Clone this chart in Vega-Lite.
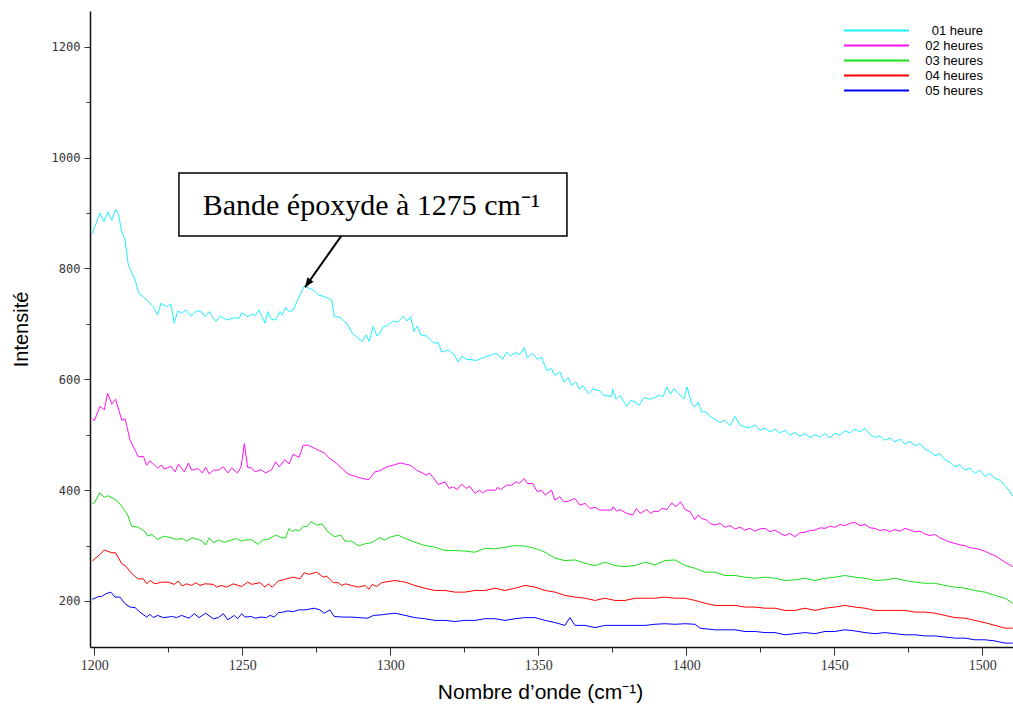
{
  "$schema": "https://vega.github.io/schema/vega-lite/v6.json",
  "width": 923,
  "height": 636,
  "autosize": {"type": "none"},
  "padding": {"left": 90, "top": 11, "right": 0, "bottom": 62},
  "background": "white",
  "config": {"view": {"stroke": null}, "axis": {"grid": false}},
  "datasets": {
    "spectra": [
      {"s":"01 heure","w":1199.3,"v":862},{"s":"01 heure","w":1201.9,"v":900},{"s":"01 heure","w":1203.3,"v":884},{"s":"01 heure","w":1204.5,"v":902},{"s":"01 heure","w":1205.9,"v":887},{"s":"01 heure","w":1207.2,"v":907},{"s":"01 heure","w":1208.1,"v":899},{"s":"01 heure","w":1209.3,"v":866},{"s":"01 heure","w":1210.4,"v":851},{"s":"01 heure","w":1211.5,"v":806},{"s":"01 heure","w":1213.8,"v":779},{"s":"01 heure","w":1215.1,"v":755},{"s":"01 heure","w":1216.6,"v":749},{"s":"01 heure","w":1219.9,"v":731},{"s":"01 heure","w":1221.4,"v":716},{"s":"01 heure","w":1222.5,"v":737},{"s":"01 heure","w":1224.5,"v":731},{"s":"01 heure","w":1225.9,"v":736},{"s":"01 heure","w":1227,"v":701},{"s":"01 heure","w":1228.2,"v":723},{"s":"01 heure","w":1229.5,"v":719},{"s":"01 heure","w":1230.9,"v":725},{"s":"01 heure","w":1232.7,"v":714},{"s":"01 heure","w":1234.6,"v":723},{"s":"01 heure","w":1236,"v":723},{"s":"01 heure","w":1237.4,"v":713},{"s":"01 heure","w":1238.8,"v":722},{"s":"01 heure","w":1241,"v":704},{"s":"01 heure","w":1242.5,"v":714},{"s":"01 heure","w":1244.7,"v":707},{"s":"01 heure","w":1247,"v":711},{"s":"01 heure","w":1249,"v":710},{"s":"01 heure","w":1249.8,"v":720},{"s":"01 heure","w":1251.8,"v":713},{"s":"01 heure","w":1253.2,"v":717},{"s":"01 heure","w":1254.5,"v":715},{"s":"01 heure","w":1255.6,"v":725},{"s":"01 heure","w":1257.7,"v":701},{"s":"01 heure","w":1258.6,"v":722},{"s":"01 heure","w":1259.9,"v":708},{"s":"01 heure","w":1261.3,"v":707},{"s":"01 heure","w":1262.7,"v":722},{"s":"01 heure","w":1263.5,"v":716},{"s":"01 heure","w":1264.7,"v":730},{"s":"01 heure","w":1265.8,"v":722},{"s":"01 heure","w":1267.2,"v":725},{"s":"01 heure","w":1269.2,"v":749},{"s":"01 heure","w":1270.9,"v":768},{"s":"01 heure","w":1274,"v":761},{"s":"01 heure","w":1275.7,"v":752},{"s":"01 heure","w":1277.9,"v":749},{"s":"01 heure","w":1280.2,"v":743},{"s":"01 heure","w":1281.1,"v":713},{"s":"01 heure","w":1283,"v":712},{"s":"01 heure","w":1285.4,"v":700},{"s":"01 heure","w":1287.2,"v":683},{"s":"01 heure","w":1288.8,"v":676},{"s":"01 heure","w":1290.5,"v":668},{"s":"01 heure","w":1291.9,"v":680},{"s":"01 heure","w":1292.9,"v":668},{"s":"01 heure","w":1294.2,"v":695},{"s":"01 heure","w":1295.5,"v":678},{"s":"01 heure","w":1296.5,"v":683},{"s":"01 heure","w":1297.6,"v":695},{"s":"01 heure","w":1298.8,"v":696},{"s":"01 heure","w":1301,"v":705},{"s":"01 heure","w":1302.5,"v":703},{"s":"01 heure","w":1304.4,"v":714},{"s":"01 heure","w":1305.7,"v":705},{"s":"01 heure","w":1306.9,"v":713},{"s":"01 heure","w":1308,"v":686},{"s":"01 heure","w":1309.1,"v":696},{"s":"01 heure","w":1310.3,"v":680},{"s":"01 heure","w":1312.3,"v":678},{"s":"01 heure","w":1314.8,"v":665},{"s":"01 heure","w":1316.2,"v":666},{"s":"01 heure","w":1317.4,"v":649},{"s":"01 heure","w":1319.6,"v":653},{"s":"01 heure","w":1321.5,"v":645},{"s":"01 heure","w":1323,"v":631},{"s":"01 heure","w":1324.1,"v":642},{"s":"01 heure","w":1325.8,"v":636},{"s":"01 heure","w":1329.2,"v":634},{"s":"01 heure","w":1330.9,"v":638},{"s":"01 heure","w":1333.7,"v":643},{"s":"01 heure","w":1335.7,"v":647},{"s":"01 heure","w":1338,"v":636},{"s":"01 heure","w":1339.3,"v":649},{"s":"01 heure","w":1340.7,"v":642},{"s":"01 heure","w":1342.1,"v":648},{"s":"01 heure","w":1343.8,"v":645},{"s":"01 heure","w":1345.2,"v":657},{"s":"01 heure","w":1346.3,"v":639},{"s":"01 heure","w":1348.1,"v":647},{"s":"01 heure","w":1349.7,"v":636},{"s":"01 heure","w":1351.1,"v":640},{"s":"01 heure","w":1352.8,"v":616},{"s":"01 heure","w":1354.5,"v":619},{"s":"01 heure","w":1355.6,"v":607},{"s":"01 heure","w":1357.3,"v":613},{"s":"01 heure","w":1358.7,"v":595},{"s":"01 heure","w":1360.1,"v":603},{"s":"01 heure","w":1361.3,"v":589},{"s":"01 heure","w":1362.7,"v":595},{"s":"01 heure","w":1363.9,"v":582},{"s":"01 heure","w":1365.2,"v":588},{"s":"01 heure","w":1367,"v":574},{"s":"01 heure","w":1368.6,"v":583},{"s":"01 heure","w":1370.8,"v":579},{"s":"01 heure","w":1372.2,"v":571},{"s":"01 heure","w":1374.8,"v":569},{"s":"01 heure","w":1375.1,"v":582},{"s":"01 heure","w":1376.3,"v":564},{"s":"01 heure","w":1377.6,"v":571},{"s":"01 heure","w":1379.9,"v":551},{"s":"01 heure","w":1381.2,"v":562},{"s":"01 heure","w":1382.7,"v":559},{"s":"01 heure","w":1384.1,"v":553},{"s":"01 heure","w":1385.7,"v":567},{"s":"01 heure","w":1387.5,"v":564},{"s":"01 heure","w":1389.4,"v":567},{"s":"01 heure","w":1390.9,"v":571},{"s":"01 heure","w":1392.2,"v":569},{"s":"01 heure","w":1393.4,"v":586},{"s":"01 heure","w":1394.7,"v":573},{"s":"01 heure","w":1395.8,"v":583},{"s":"01 heure","w":1397.3,"v":575},{"s":"01 heure","w":1399.2,"v":564},{"s":"01 heure","w":1400.3,"v":586},{"s":"01 heure","w":1401.8,"v":556},{"s":"01 heure","w":1402.9,"v":550},{"s":"01 heure","w":1404,"v":559},{"s":"01 heure","w":1405.2,"v":541},{"s":"01 heure","w":1406.7,"v":541},{"s":"01 heure","w":1408,"v":533},{"s":"01 heure","w":1409.7,"v":528},{"s":"01 heure","w":1411.5,"v":522},{"s":"01 heure","w":1413.1,"v":526},{"s":"01 heure","w":1414.8,"v":516},{"s":"01 heure","w":1416.5,"v":533},{"s":"01 heure","w":1418.2,"v":517},{"s":"01 heure","w":1419.8,"v":514},{"s":"01 heure","w":1421.5,"v":512},{"s":"01 heure","w":1423.2,"v":518},{"s":"01 heure","w":1424.9,"v":508},{"s":"01 heure","w":1426.6,"v":512},{"s":"01 heure","w":1428.3,"v":505},{"s":"01 heure","w":1430,"v":510},{"s":"01 heure","w":1431.7,"v":503},{"s":"01 heure","w":1433.4,"v":508},{"s":"01 heure","w":1435,"v":499},{"s":"01 heure","w":1436.7,"v":504},{"s":"01 heure","w":1438.4,"v":497},{"s":"01 heure","w":1440.1,"v":502},{"s":"01 heure","w":1441.8,"v":495},{"s":"01 heure","w":1443.5,"v":500},{"s":"01 heure","w":1445.2,"v":496},{"s":"01 heure","w":1446.9,"v":502},{"s":"01 heure","w":1448.6,"v":494},{"s":"01 heure","w":1450.2,"v":503},{"s":"01 heure","w":1451.9,"v":499},{"s":"01 heure","w":1453.6,"v":507},{"s":"01 heure","w":1455.3,"v":503},{"s":"01 heure","w":1457,"v":510},{"s":"01 heure","w":1458.7,"v":505},{"s":"01 heure","w":1460.4,"v":512},{"s":"01 heure","w":1462.1,"v":500},{"s":"01 heure","w":1463.8,"v":495},{"s":"01 heure","w":1465.4,"v":498},{"s":"01 heure","w":1467.1,"v":490},{"s":"01 heure","w":1468.8,"v":494},{"s":"01 heure","w":1470.5,"v":487},{"s":"01 heure","w":1472.2,"v":492},{"s":"01 heure","w":1473.9,"v":483},{"s":"01 heure","w":1475.6,"v":488},{"s":"01 heure","w":1477.3,"v":480},{"s":"01 heure","w":1479,"v":484},{"s":"01 heure","w":1480.6,"v":474},{"s":"01 heure","w":1482.3,"v":470},{"s":"01 heure","w":1484,"v":462},{"s":"01 heure","w":1485.7,"v":466},{"s":"01 heure","w":1487.4,"v":455},{"s":"01 heure","w":1489.1,"v":450},{"s":"01 heure","w":1490.8,"v":442},{"s":"01 heure","w":1492.5,"v":446},{"s":"01 heure","w":1494.2,"v":436},{"s":"01 heure","w":1495.8,"v":440},{"s":"01 heure","w":1497.5,"v":430},{"s":"01 heure","w":1499.2,"v":436},{"s":"01 heure","w":1500.9,"v":425},{"s":"01 heure","w":1502.6,"v":430},{"s":"01 heure","w":1504.3,"v":421},{"s":"01 heure","w":1506,"v":418},{"s":"01 heure","w":1507.7,"v":408},{"s":"01 heure","w":1509,"v":400},{"s":"01 heure","w":1510.3,"v":389},

      {"s":"02 heures","w":1199.3,"v":529},{"s":"02 heures","w":1200,"v":525},{"s":"02 heures","w":1201.9,"v":551},{"s":"02 heures","w":1203.4,"v":545},{"s":"02 heures","w":1204.5,"v":575},{"s":"02 heures","w":1205.9,"v":555},{"s":"02 heures","w":1207.2,"v":564},{"s":"02 heures","w":1209.3,"v":526},{"s":"02 heures","w":1210.4,"v":529},{"s":"02 heures","w":1212.1,"v":490},{"s":"02 heures","w":1214.9,"v":460},{"s":"02 heures","w":1216.6,"v":461},{"s":"02 heures","w":1217.7,"v":445},{"s":"02 heures","w":1218.8,"v":453},{"s":"02 heures","w":1221.4,"v":440},{"s":"02 heures","w":1222.8,"v":445},{"s":"02 heures","w":1223.6,"v":438},{"s":"02 heures","w":1225.9,"v":443},{"s":"02 heures","w":1227.3,"v":433},{"s":"02 heures","w":1228.4,"v":447},{"s":"02 heures","w":1230.4,"v":433},{"s":"02 heures","w":1231.8,"v":449},{"s":"02 heures","w":1232.9,"v":436},{"s":"02 heures","w":1235.1,"v":439},{"s":"02 heures","w":1236.5,"v":431},{"s":"02 heures","w":1237.6,"v":441},{"s":"02 heures","w":1238.8,"v":429},{"s":"02 heures","w":1240.2,"v":436},{"s":"02 heures","w":1241.9,"v":436},{"s":"02 heures","w":1243.6,"v":442},{"s":"02 heures","w":1245.1,"v":431},{"s":"02 heures","w":1246.4,"v":440},{"s":"02 heures","w":1248.4,"v":431},{"s":"02 heures","w":1249.6,"v":442},{"s":"02 heures","w":1250.7,"v":484},{"s":"02 heures","w":1251.8,"v":441},{"s":"02 heures","w":1253.2,"v":440},{"s":"02 heures","w":1254.3,"v":433},{"s":"02 heures","w":1256.3,"v":437},{"s":"02 heures","w":1257.9,"v":431},{"s":"02 heures","w":1259.9,"v":437},{"s":"02 heures","w":1261.3,"v":451},{"s":"02 heures","w":1262.5,"v":442},{"s":"02 heures","w":1264.4,"v":455},{"s":"02 heures","w":1265.8,"v":447},{"s":"02 heures","w":1267.2,"v":465},{"s":"02 heures","w":1269.2,"v":459},{"s":"02 heures","w":1270.6,"v":481},{"s":"02 heures","w":1272.4,"v":481},{"s":"02 heures","w":1274.6,"v":475},{"s":"02 heures","w":1277.7,"v":467},{"s":"02 heures","w":1279.6,"v":457},{"s":"02 heures","w":1281.9,"v":448},{"s":"02 heures","w":1284.1,"v":437},{"s":"02 heures","w":1285.8,"v":429},{"s":"02 heures","w":1288.1,"v":425},{"s":"02 heures","w":1290.5,"v":421},{"s":"02 heures","w":1292.8,"v":419},{"s":"02 heures","w":1294.8,"v":433},{"s":"02 heures","w":1296.5,"v":435},{"s":"02 heures","w":1298.8,"v":442},{"s":"02 heures","w":1301,"v":445},{"s":"02 heures","w":1303.3,"v":449},{"s":"02 heures","w":1306.7,"v":445},{"s":"02 heures","w":1308.9,"v":436},{"s":"02 heures","w":1312.3,"v":427},{"s":"02 heures","w":1313.2,"v":431},{"s":"02 heures","w":1314.8,"v":421},{"s":"02 heures","w":1316.2,"v":410},{"s":"02 heures","w":1318.5,"v":415},{"s":"02 heures","w":1319.9,"v":403},{"s":"02 heures","w":1321.3,"v":406},{"s":"02 heures","w":1322.6,"v":401},{"s":"02 heures","w":1324.1,"v":411},{"s":"02 heures","w":1325.6,"v":403},{"s":"02 heures","w":1326.9,"v":407},{"s":"02 heures","w":1328.6,"v":394},{"s":"02 heures","w":1330.1,"v":400},{"s":"02 heures","w":1331.2,"v":395},{"s":"02 heures","w":1332.8,"v":400},{"s":"02 heures","w":1335.7,"v":400},{"s":"02 heures","w":1336.2,"v":405},{"s":"02 heures","w":1337.3,"v":401},{"s":"02 heures","w":1339.3,"v":409},{"s":"02 heures","w":1341,"v":409},{"s":"02 heures","w":1342.5,"v":415},{"s":"02 heures","w":1343.6,"v":412},{"s":"02 heures","w":1345.2,"v":421},{"s":"02 heures","w":1346.3,"v":412},{"s":"02 heures","w":1348.1,"v":412},{"s":"02 heures","w":1349.7,"v":397},{"s":"02 heures","w":1351.1,"v":400},{"s":"02 heures","w":1352.3,"v":391},{"s":"02 heures","w":1354.5,"v":400},{"s":"02 heures","w":1355.6,"v":382},{"s":"02 heures","w":1357.3,"v":388},{"s":"02 heures","w":1358.7,"v":379},{"s":"02 heures","w":1360.1,"v":380},{"s":"02 heures","w":1362.4,"v":385},{"s":"02 heures","w":1364.1,"v":373},{"s":"02 heures","w":1365.8,"v":376},{"s":"02 heures","w":1367.5,"v":367},{"s":"02 heures","w":1369.2,"v":369},{"s":"02 heures","w":1370.8,"v":364},{"s":"02 heures","w":1374.8,"v":364},{"s":"02 heures","w":1375.3,"v":370},{"s":"02 heures","w":1376.5,"v":362},{"s":"02 heures","w":1377.6,"v":365},{"s":"02 heures","w":1379.9,"v":358},{"s":"02 heures","w":1381.9,"v":355},{"s":"02 heures","w":1383.2,"v":367},{"s":"02 heures","w":1384.4,"v":358},{"s":"02 heures","w":1386.6,"v":365},{"s":"02 heures","w":1388,"v":358},{"s":"02 heures","w":1389.1,"v":362},{"s":"02 heures","w":1390.5,"v":361},{"s":"02 heures","w":1391.7,"v":367},{"s":"02 heures","w":1393.4,"v":365},{"s":"02 heures","w":1395.1,"v":377},{"s":"02 heures","w":1396.5,"v":370},{"s":"02 heures","w":1398.1,"v":379},{"s":"02 heures","w":1399.6,"v":365},{"s":"02 heures","w":1401.3,"v":361},{"s":"02 heures","w":1402.9,"v":347},{"s":"02 heures","w":1404,"v":355},{"s":"02 heures","w":1405.2,"v":349},{"s":"02 heures","w":1406.9,"v":346},{"s":"02 heures","w":1408,"v":340},{"s":"02 heures","w":1409.7,"v":337},{"s":"02 heures","w":1411.5,"v":340},{"s":"02 heures","w":1413.1,"v":333},{"s":"02 heures","w":1414.8,"v":336},{"s":"02 heures","w":1416.5,"v":330},{"s":"02 heures","w":1418.2,"v":333},{"s":"02 heures","w":1419.8,"v":328},{"s":"02 heures","w":1421.5,"v":331},{"s":"02 heures","w":1423.2,"v":326},{"s":"02 heures","w":1424.9,"v":330},{"s":"02 heures","w":1426.6,"v":331},{"s":"02 heures","w":1428.3,"v":325},{"s":"02 heures","w":1430,"v":328},{"s":"02 heures","w":1431.7,"v":322},{"s":"02 heures","w":1433.4,"v":318},{"s":"02 heures","w":1435,"v":322},{"s":"02 heures","w":1436.7,"v":316},{"s":"02 heures","w":1438.4,"v":323},{"s":"02 heures","w":1440.1,"v":324},{"s":"02 heures","w":1441.8,"v":327},{"s":"02 heures","w":1443.5,"v":328},{"s":"02 heures","w":1445.2,"v":332},{"s":"02 heures","w":1446.9,"v":331},{"s":"02 heures","w":1448.6,"v":335},{"s":"02 heures","w":1450.2,"v":333},{"s":"02 heures","w":1451.9,"v":338},{"s":"02 heures","w":1453.6,"v":336},{"s":"02 heures","w":1455.3,"v":340},{"s":"02 heures","w":1457,"v":342},{"s":"02 heures","w":1458.7,"v":336},{"s":"02 heures","w":1460.4,"v":338},{"s":"02 heures","w":1462.1,"v":332},{"s":"02 heures","w":1463.8,"v":331},{"s":"02 heures","w":1465.4,"v":327},{"s":"02 heures","w":1467.1,"v":329},{"s":"02 heures","w":1468.8,"v":325},{"s":"02 heures","w":1470.5,"v":329},{"s":"02 heures","w":1472.2,"v":326},{"s":"02 heures","w":1473.9,"v":331},{"s":"02 heures","w":1475.6,"v":328},{"s":"02 heures","w":1477.3,"v":325},{"s":"02 heures","w":1479,"v":326},{"s":"02 heures","w":1480.6,"v":321},{"s":"02 heures","w":1482.3,"v":318},{"s":"02 heures","w":1484,"v":320},{"s":"02 heures","w":1485.7,"v":314},{"s":"02 heures","w":1487.4,"v":310},{"s":"02 heures","w":1489.1,"v":306},{"s":"02 heures","w":1490.8,"v":304},{"s":"02 heures","w":1492.5,"v":301},{"s":"02 heures","w":1494.2,"v":300},{"s":"02 heures","w":1495.8,"v":296},{"s":"02 heures","w":1497.5,"v":295},{"s":"02 heures","w":1499.2,"v":293},{"s":"02 heures","w":1500.9,"v":290},{"s":"02 heures","w":1502.6,"v":285},{"s":"02 heures","w":1504.3,"v":282},{"s":"02 heures","w":1506,"v":276},{"s":"02 heures","w":1507.7,"v":270},{"s":"02 heures","w":1510.3,"v":262},

      {"s":"03 heures","w":1199.3,"v":376},{"s":"03 heures","w":1200,"v":377},{"s":"03 heures","w":1201.9,"v":395},{"s":"03 heures","w":1203.4,"v":387},{"s":"03 heures","w":1204.5,"v":390},{"s":"03 heures","w":1206.4,"v":385},{"s":"03 heures","w":1208.1,"v":379},{"s":"03 heures","w":1209.8,"v":367},{"s":"03 heures","w":1211.3,"v":355},{"s":"03 heures","w":1212.6,"v":335},{"s":"03 heures","w":1214.9,"v":333},{"s":"03 heures","w":1217.1,"v":325},{"s":"03 heures","w":1218.2,"v":317},{"s":"03 heures","w":1219.4,"v":320},{"s":"03 heures","w":1221.4,"v":311},{"s":"03 heures","w":1223.6,"v":317},{"s":"03 heures","w":1225.9,"v":314},{"s":"03 heures","w":1227.8,"v":311},{"s":"03 heures","w":1229.7,"v":313},{"s":"03 heures","w":1231.2,"v":308},{"s":"03 heures","w":1233.1,"v":314},{"s":"03 heures","w":1235.1,"v":311},{"s":"03 heures","w":1236.5,"v":308},{"s":"03 heures","w":1237.6,"v":301},{"s":"03 heures","w":1238.8,"v":314},{"s":"03 heures","w":1240.2,"v":305},{"s":"03 heures","w":1241.9,"v":310},{"s":"03 heures","w":1243.9,"v":306},{"s":"03 heures","w":1246.4,"v":310},{"s":"03 heures","w":1248.1,"v":313},{"s":"03 heures","w":1249.6,"v":308},{"s":"03 heures","w":1250.9,"v":310},{"s":"03 heures","w":1252.9,"v":311},{"s":"03 heures","w":1254.3,"v":306},{"s":"03 heures","w":1255.4,"v":302},{"s":"03 heures","w":1256.8,"v":310},{"s":"03 heures","w":1258.6,"v":311},{"s":"03 heures","w":1261.3,"v":319},{"s":"03 heures","w":1263.3,"v":314},{"s":"03 heures","w":1264.7,"v":314},{"s":"03 heures","w":1265.8,"v":331},{"s":"03 heures","w":1266.9,"v":325},{"s":"03 heures","w":1268,"v":329},{"s":"03 heures","w":1269.2,"v":326},{"s":"03 heures","w":1270.6,"v":335},{"s":"03 heures","w":1271.8,"v":334},{"s":"03 heures","w":1273.4,"v":343},{"s":"03 heures","w":1275.1,"v":337},{"s":"03 heures","w":1277,"v":339},{"s":"03 heures","w":1278.9,"v":325},{"s":"03 heures","w":1281.3,"v":316},{"s":"03 heures","w":1283.3,"v":319},{"s":"03 heures","w":1284.7,"v":308},{"s":"03 heures","w":1286.9,"v":308},{"s":"03 heures","w":1289.4,"v":299},{"s":"03 heures","w":1290.5,"v":302},{"s":"03 heures","w":1293.5,"v":305},{"s":"03 heures","w":1296.5,"v":314},{"s":"03 heures","w":1298.2,"v":310},{"s":"03 heures","w":1299.9,"v":315},{"s":"03 heures","w":1302.6,"v":319},{"s":"03 heures","w":1305,"v":313},{"s":"03 heures","w":1308.3,"v":306},{"s":"03 heures","w":1311.7,"v":300},{"s":"03 heures","w":1315.1,"v":297},{"s":"03 heures","w":1318.5,"v":291},{"s":"03 heures","w":1321.9,"v":291},{"s":"03 heures","w":1325.2,"v":290},{"s":"03 heures","w":1328.6,"v":288},{"s":"03 heures","w":1332,"v":295},{"s":"03 heures","w":1335.4,"v":294},{"s":"03 heures","w":1338.8,"v":297},{"s":"03 heures","w":1342.1,"v":300},{"s":"03 heures","w":1345.5,"v":299},{"s":"03 heures","w":1348.9,"v":295},{"s":"03 heures","w":1352.3,"v":288},{"s":"03 heures","w":1355.7,"v":277},{"s":"03 heures","w":1359,"v":273},{"s":"03 heures","w":1362.4,"v":274},{"s":"03 heures","w":1365.8,"v":268},{"s":"03 heures","w":1369.2,"v":264},{"s":"03 heures","w":1372.5,"v":270},{"s":"03 heures","w":1375.9,"v":264},{"s":"03 heures","w":1379.3,"v":262},{"s":"03 heures","w":1382.7,"v":264},{"s":"03 heures","w":1386.1,"v":270},{"s":"03 heures","w":1389.4,"v":265},{"s":"03 heures","w":1392.8,"v":273},{"s":"03 heures","w":1396.2,"v":274},{"s":"03 heures","w":1399.6,"v":264},{"s":"03 heures","w":1403,"v":259},{"s":"03 heures","w":1406.3,"v":252},{"s":"03 heures","w":1409.7,"v":252},{"s":"03 heures","w":1413.1,"v":246},{"s":"03 heures","w":1416.5,"v":246},{"s":"03 heures","w":1419.8,"v":243},{"s":"03 heures","w":1423.2,"v":241},{"s":"03 heures","w":1426.6,"v":243},{"s":"03 heures","w":1430,"v":241},{"s":"03 heures","w":1433.4,"v":237},{"s":"03 heures","w":1436.7,"v":238},{"s":"03 heures","w":1440.1,"v":241},{"s":"03 heures","w":1443.5,"v":237},{"s":"03 heures","w":1446.9,"v":241},{"s":"03 heures","w":1450.2,"v":243},{"s":"03 heures","w":1453.6,"v":246},{"s":"03 heures","w":1457,"v":243},{"s":"03 heures","w":1460.4,"v":241},{"s":"03 heures","w":1463.8,"v":237},{"s":"03 heures","w":1467.1,"v":238},{"s":"03 heures","w":1470.5,"v":241},{"s":"03 heures","w":1473.9,"v":237},{"s":"03 heures","w":1477.3,"v":234},{"s":"03 heures","w":1480.6,"v":232},{"s":"03 heures","w":1484,"v":232},{"s":"03 heures","w":1487.4,"v":228},{"s":"03 heures","w":1490.8,"v":225},{"s":"03 heures","w":1494.2,"v":223},{"s":"03 heures","w":1497.5,"v":219},{"s":"03 heures","w":1500.9,"v":216},{"s":"03 heures","w":1504.3,"v":210},{"s":"03 heures","w":1507.7,"v":205},{"s":"03 heures","w":1510.3,"v":196},

      {"s":"04 heures","w":1199.3,"v":272},{"s":"04 heures","w":1201.9,"v":284},{"s":"04 heures","w":1203.4,"v":292},{"s":"04 heures","w":1205.9,"v":287},{"s":"04 heures","w":1207.2,"v":287},{"s":"04 heures","w":1209.3,"v":267},{"s":"04 heures","w":1210.6,"v":263},{"s":"04 heures","w":1212.6,"v":250},{"s":"04 heures","w":1214.7,"v":240},{"s":"04 heures","w":1216.6,"v":240},{"s":"04 heures","w":1217.7,"v":231},{"s":"04 heures","w":1218.8,"v":237},{"s":"04 heures","w":1220.5,"v":231},{"s":"04 heures","w":1222.8,"v":234},{"s":"04 heures","w":1225,"v":234},{"s":"04 heures","w":1227,"v":230},{"s":"04 heures","w":1228.4,"v":236},{"s":"04 heures","w":1229.7,"v":227},{"s":"04 heures","w":1231.2,"v":231},{"s":"04 heures","w":1232.9,"v":228},{"s":"04 heures","w":1234.3,"v":233},{"s":"04 heures","w":1235.7,"v":228},{"s":"04 heures","w":1237.4,"v":231},{"s":"04 heures","w":1240.2,"v":230},{"s":"04 heures","w":1241.4,"v":225},{"s":"04 heures","w":1243,"v":228},{"s":"04 heures","w":1244.7,"v":225},{"s":"04 heures","w":1247,"v":231},{"s":"04 heures","w":1249.8,"v":226},{"s":"04 heures","w":1251.8,"v":234},{"s":"04 heures","w":1253.2,"v":230},{"s":"04 heures","w":1256,"v":233},{"s":"04 heures","w":1257.7,"v":225},{"s":"04 heures","w":1258.8,"v":231},{"s":"04 heures","w":1260.1,"v":225},{"s":"04 heures","w":1262.2,"v":236},{"s":"04 heures","w":1264.4,"v":239},{"s":"04 heures","w":1267.2,"v":243},{"s":"04 heures","w":1269.5,"v":240},{"s":"04 heures","w":1270.9,"v":251},{"s":"04 heures","w":1272.5,"v":248},{"s":"04 heures","w":1275.1,"v":252},{"s":"04 heures","w":1277.4,"v":243},{"s":"04 heures","w":1278.5,"v":245},{"s":"04 heures","w":1280.7,"v":233},{"s":"04 heures","w":1282.4,"v":233},{"s":"04 heures","w":1283.6,"v":228},{"s":"04 heures","w":1284.9,"v":231},{"s":"04 heures","w":1286.9,"v":228},{"s":"04 heures","w":1289.2,"v":225},{"s":"04 heures","w":1291.5,"v":228},{"s":"04 heures","w":1292.8,"v":221},{"s":"04 heures","w":1293.9,"v":230},{"s":"04 heures","w":1295.4,"v":226},{"s":"04 heures","w":1297.1,"v":233},{"s":"04 heures","w":1298.2,"v":234},{"s":"04 heures","w":1301.6,"v":237},{"s":"04 heures","w":1305,"v":234},{"s":"04 heures","w":1308.3,"v":228},{"s":"04 heures","w":1311.7,"v":223},{"s":"04 heures","w":1315.1,"v":219},{"s":"04 heures","w":1318.5,"v":219},{"s":"04 heures","w":1321.9,"v":216},{"s":"04 heures","w":1325.2,"v":216},{"s":"04 heures","w":1328.6,"v":219},{"s":"04 heures","w":1332,"v":219},{"s":"04 heures","w":1335.4,"v":223},{"s":"04 heures","w":1338.8,"v":219},{"s":"04 heures","w":1342.1,"v":223},{"s":"04 heures","w":1345.5,"v":228},{"s":"04 heures","w":1348.9,"v":225},{"s":"04 heures","w":1352.3,"v":219},{"s":"04 heures","w":1355.7,"v":216},{"s":"04 heures","w":1359,"v":210},{"s":"04 heures","w":1362.4,"v":207},{"s":"04 heures","w":1365.8,"v":205},{"s":"04 heures","w":1369.2,"v":201},{"s":"04 heures","w":1372.5,"v":205},{"s":"04 heures","w":1375.9,"v":201},{"s":"04 heures","w":1379.3,"v":201},{"s":"04 heures","w":1382.7,"v":205},{"s":"04 heures","w":1386.1,"v":205},{"s":"04 heures","w":1389.4,"v":205},{"s":"04 heures","w":1392.8,"v":207},{"s":"04 heures","w":1396.2,"v":205},{"s":"04 heures","w":1399.6,"v":205},{"s":"04 heures","w":1403,"v":201},{"s":"04 heures","w":1406.3,"v":196},{"s":"04 heures","w":1409.7,"v":192},{"s":"04 heures","w":1413.1,"v":192},{"s":"04 heures","w":1416.5,"v":192},{"s":"04 heures","w":1419.8,"v":189},{"s":"04 heures","w":1423.2,"v":189},{"s":"04 heures","w":1426.6,"v":187},{"s":"04 heures","w":1430,"v":187},{"s":"04 heures","w":1433.4,"v":183},{"s":"04 heures","w":1436.7,"v":183},{"s":"04 heures","w":1440.1,"v":187},{"s":"04 heures","w":1443.5,"v":183},{"s":"04 heures","w":1446.9,"v":187},{"s":"04 heures","w":1450.2,"v":189},{"s":"04 heures","w":1453.6,"v":192},{"s":"04 heures","w":1457,"v":189},{"s":"04 heures","w":1460.4,"v":187},{"s":"04 heures","w":1463.8,"v":183},{"s":"04 heures","w":1467.1,"v":183},{"s":"04 heures","w":1470.5,"v":183},{"s":"04 heures","w":1473.9,"v":183},{"s":"04 heures","w":1477.3,"v":180},{"s":"04 heures","w":1480.6,"v":180},{"s":"04 heures","w":1484,"v":178},{"s":"04 heures","w":1487.4,"v":174},{"s":"04 heures","w":1490.8,"v":170},{"s":"04 heures","w":1494.2,"v":169},{"s":"04 heures","w":1497.5,"v":165},{"s":"04 heures","w":1500.9,"v":161},{"s":"04 heures","w":1504.3,"v":156},{"s":"04 heures","w":1507.7,"v":151},{"s":"04 heures","w":1510.3,"v":151},

      {"s":"05 heures","w":1199.3,"v":203},{"s":"05 heures","w":1201.4,"v":208},{"s":"05 heures","w":1202.5,"v":208},{"s":"05 heures","w":1203.9,"v":213},{"s":"05 heures","w":1205.6,"v":216},{"s":"05 heures","w":1207,"v":207},{"s":"05 heures","w":1208.7,"v":207},{"s":"05 heures","w":1210.4,"v":195},{"s":"05 heures","w":1212.1,"v":189},{"s":"05 heures","w":1213.8,"v":188},{"s":"05 heures","w":1215.4,"v":180},{"s":"05 heures","w":1217.7,"v":171},{"s":"05 heures","w":1218.8,"v":176},{"s":"05 heures","w":1219.9,"v":170},{"s":"05 heures","w":1221.4,"v":174},{"s":"05 heures","w":1223.3,"v":170},{"s":"05 heures","w":1226.4,"v":172},{"s":"05 heures","w":1227.8,"v":170},{"s":"05 heures","w":1229.5,"v":174},{"s":"05 heures","w":1232,"v":169},{"s":"05 heures","w":1233.8,"v":177},{"s":"05 heures","w":1235.4,"v":170},{"s":"05 heures","w":1237.6,"v":178},{"s":"05 heures","w":1240.2,"v":168},{"s":"05 heures","w":1241.9,"v":170},{"s":"05 heures","w":1243.6,"v":177},{"s":"05 heures","w":1245.1,"v":166},{"s":"05 heures","w":1247.3,"v":174},{"s":"05 heures","w":1248.4,"v":168},{"s":"05 heures","w":1249.8,"v":177},{"s":"05 heures","w":1250.9,"v":171},{"s":"05 heures","w":1252.9,"v":172},{"s":"05 heures","w":1254.5,"v":169},{"s":"05 heures","w":1256.3,"v":171},{"s":"05 heures","w":1258.2,"v":170},{"s":"05 heures","w":1259.4,"v":174},{"s":"05 heures","w":1260.8,"v":171},{"s":"05 heures","w":1262.2,"v":179},{"s":"05 heures","w":1263.9,"v":180},{"s":"05 heures","w":1265.3,"v":182},{"s":"05 heures","w":1267.2,"v":181},{"s":"05 heures","w":1269.2,"v":184},{"s":"05 heures","w":1271.2,"v":184},{"s":"05 heures","w":1274.3,"v":187},{"s":"05 heures","w":1276.2,"v":184},{"s":"05 heures","w":1277.7,"v":178},{"s":"05 heures","w":1279.6,"v":184},{"s":"05 heures","w":1281.1,"v":172},{"s":"05 heures","w":1284.1,"v":171},{"s":"05 heures","w":1286.9,"v":171},{"s":"05 heures","w":1289.2,"v":170},{"s":"05 heures","w":1292.4,"v":169},{"s":"05 heures","w":1294.3,"v":174},{"s":"05 heures","w":1297.1,"v":175},{"s":"05 heures","w":1298.2,"v":176},{"s":"05 heures","w":1301.6,"v":178},{"s":"05 heures","w":1305,"v":174},{"s":"05 heures","w":1308.3,"v":170},{"s":"05 heures","w":1311.7,"v":168},{"s":"05 heures","w":1315.1,"v":165},{"s":"05 heures","w":1318.5,"v":165},{"s":"05 heures","w":1321.9,"v":163},{"s":"05 heures","w":1325.2,"v":165},{"s":"05 heures","w":1328.6,"v":165},{"s":"05 heures","w":1332,"v":168},{"s":"05 heures","w":1335.4,"v":168},{"s":"05 heures","w":1338.8,"v":165},{"s":"05 heures","w":1342.1,"v":168},{"s":"05 heures","w":1345.5,"v":170},{"s":"05 heures","w":1348.9,"v":170},{"s":"05 heures","w":1352.3,"v":165},{"s":"05 heures","w":1355.7,"v":161},{"s":"05 heures","w":1359,"v":156},{"s":"05 heures","w":1360.7,"v":170},{"s":"05 heures","w":1362.4,"v":156},{"s":"05 heures","w":1365.8,"v":156},{"s":"05 heures","w":1369.2,"v":152},{"s":"05 heures","w":1372.5,"v":156},{"s":"05 heures","w":1375.9,"v":156},{"s":"05 heures","w":1379.3,"v":156},{"s":"05 heures","w":1382.7,"v":156},{"s":"05 heures","w":1386.1,"v":156},{"s":"05 heures","w":1389.4,"v":158},{"s":"05 heures","w":1392.8,"v":159},{"s":"05 heures","w":1396.2,"v":158},{"s":"05 heures","w":1399.6,"v":159},{"s":"05 heures","w":1403,"v":158},{"s":"05 heures","w":1404.6,"v":151},{"s":"05 heures","w":1409.7,"v":148},{"s":"05 heures","w":1413.1,"v":148},{"s":"05 heures","w":1416.5,"v":148},{"s":"05 heures","w":1419.8,"v":145},{"s":"05 heures","w":1423.2,"v":145},{"s":"05 heures","w":1426.6,"v":143},{"s":"05 heures","w":1430,"v":143},{"s":"05 heures","w":1433.4,"v":139},{"s":"05 heures","w":1436.7,"v":141},{"s":"05 heures","w":1440.1,"v":143},{"s":"05 heures","w":1443.5,"v":141},{"s":"05 heures","w":1446.9,"v":145},{"s":"05 heures","w":1450.2,"v":145},{"s":"05 heures","w":1453.6,"v":148},{"s":"05 heures","w":1457,"v":146},{"s":"05 heures","w":1460.4,"v":143},{"s":"05 heures","w":1463.8,"v":141},{"s":"05 heures","w":1467.1,"v":143},{"s":"05 heures","w":1470.5,"v":141},{"s":"05 heures","w":1473.9,"v":139},{"s":"05 heures","w":1477.3,"v":139},{"s":"05 heures","w":1480.6,"v":137},{"s":"05 heures","w":1484,"v":137},{"s":"05 heures","w":1487.4,"v":135},{"s":"05 heures","w":1490.8,"v":133},{"s":"05 heures","w":1494.2,"v":133},{"s":"05 heures","w":1497.5,"v":130},{"s":"05 heures","w":1500.9,"v":130},{"s":"05 heures","w":1504.3,"v":128},{"s":"05 heures","w":1507.7,"v":124},{"s":"05 heures","w":1510.3,"v":124}
    ],
    "note": [
      {"x1": 1228.6, "x2": 1359.7, "y1": 972, "y2": 858.3, "tx": 1293.6, "ty": 913, "t": "Bande époxyde à 1275 cm⁻¹", "ax": 1283.4, "ay": 858.3, "hx": 1271.2, "hy": 766}
    ]
  },
  "resolve": {"axis": {"x": "independent", "y": "independent"}},
  "layer": [
    {
      "data": {"name": "spectra"},
      "mark": {"type": "line", "strokeWidth": 1, "clip": true, "interpolate": "linear"},
      "encoding": {
        "x": {"field": "w", "type": "quantitative",
          "scale": {"domain": [1198.55, 1510.4], "nice": false, "zero": false},
          "axis": {"values": [1200, 1250, 1300, 1350, 1400, 1450, 1500], "format": "d", "orient": "bottom", "tickSize": 8, "tickColor": "#333", "tickWidth": 1, "domainColor": "#111", "domainWidth": 1.5,
            "labelFont": "Liberation Sans Narrow", "labelFontSize": 14, "labelColor": "#333", "labelPadding": 3,
            "title": "Nombre d’onde (cm⁻¹)", "titleFont": "Liberation Sans", "titleFontSize": 21, "titleFontWeight": "normal", "titleColor": "#000", "titlePadding": 9, "titleX": 450, "titleAlign": "center"}},
        "y": {"field": "v", "type": "quantitative",
          "scale": {"domain": [117, 1264.4], "nice": false, "zero": false},
          "axis": {"values": [200, 400, 600, 800, 1000, 1200], "format": "d", "orient": "left", "tickSize": 6, "tickColor": "#333", "tickWidth": 1, "domainColor": "#111", "domainWidth": 1.5,
            "labelFont": "DejaVu Sans Mono", "labelFontSize": 12, "labelColor": "#333", "labelPadding": 4,
            "title": "Intensité", "titleFont": "Liberation Sans", "titleFontSize": 20, "titleFontWeight": "normal", "titleColor": "#000", "titlePadding": 20}},
        "color": {"field": "s", "type": "nominal",
          "scale": {"domain": ["01 heure", "02 heures", "03 heures", "04 heures", "05 heures"], "range": ["#1EF0FF", "#FF10F0", "#18E018", "#FF0000", "#0000FF"]},
          "legend": {"title": null, "orient": "none", "legendX": 779, "legendY": 12, "symbolType": "M-5,0 L5,0", "symbolSize": 169, "symbolStrokeWidth": 2,
            "labelFont": "Liberation Sans", "labelFontSize": 13, "labelColor": "#000", "labelAlign": "right", "labelOffset": 99, "rowPadding": 0, "padding": 0}}
      }
    },
    {
      "data": {"name": "note"},
      "mark": {"type": "rect", "fill": "white", "stroke": "#000", "strokeWidth": 1.5},
      "encoding": {
        "x": {"field": "x1", "type": "quantitative", "axis": {"values": [1225, 1275, 1325, 1375, 1425, 1475], "orient": "bottom", "labels": false, "domain": false, "title": null, "tickSize": 5, "tickColor": "#333"}},
        "x2": {"field": "x2"},
        "y": {"field": "y1", "type": "quantitative", "axis": {"values": [300, 500, 700, 900, 1100], "orient": "left", "labels": false, "domain": false, "title": null, "tickSize": 4, "tickColor": "#333"}},
        "y2": {"field": "y2"}
      }
    },
    {
      "data": {"name": "note"},
      "mark": {"type": "text", "font": "Liberation Serif", "fontSize": 30, "color": "#000", "align": "center", "baseline": "middle"},
      "encoding": {
        "x": {"field": "tx", "type": "quantitative", "axis": null},
        "y": {"field": "ty", "type": "quantitative", "axis": null},
        "text": {"field": "t"}
      }
    },
    {
      "data": {"name": "note"},
      "mark": {"type": "rule", "color": "#000", "strokeWidth": 2},
      "encoding": {
        "x": {"field": "ax", "type": "quantitative", "axis": null},
        "y": {"field": "ay", "type": "quantitative", "axis": null},
        "x2": {"field": "hx"},
        "y2": {"field": "hy"}
      }
    },
    {
      "data": {"name": "note"},
      "mark": {"type": "point", "shape": "M0,0 L0.75,1.9 L-0.75,1.9 Z", "filled": true, "color": "#000", "opacity": 1, "size": 100, "angle": 215},
      "encoding": {
        "x": {"field": "hx", "type": "quantitative", "axis": null},
        "y": {"field": "hy", "type": "quantitative", "axis": null}
      }
    }
  ]
}
